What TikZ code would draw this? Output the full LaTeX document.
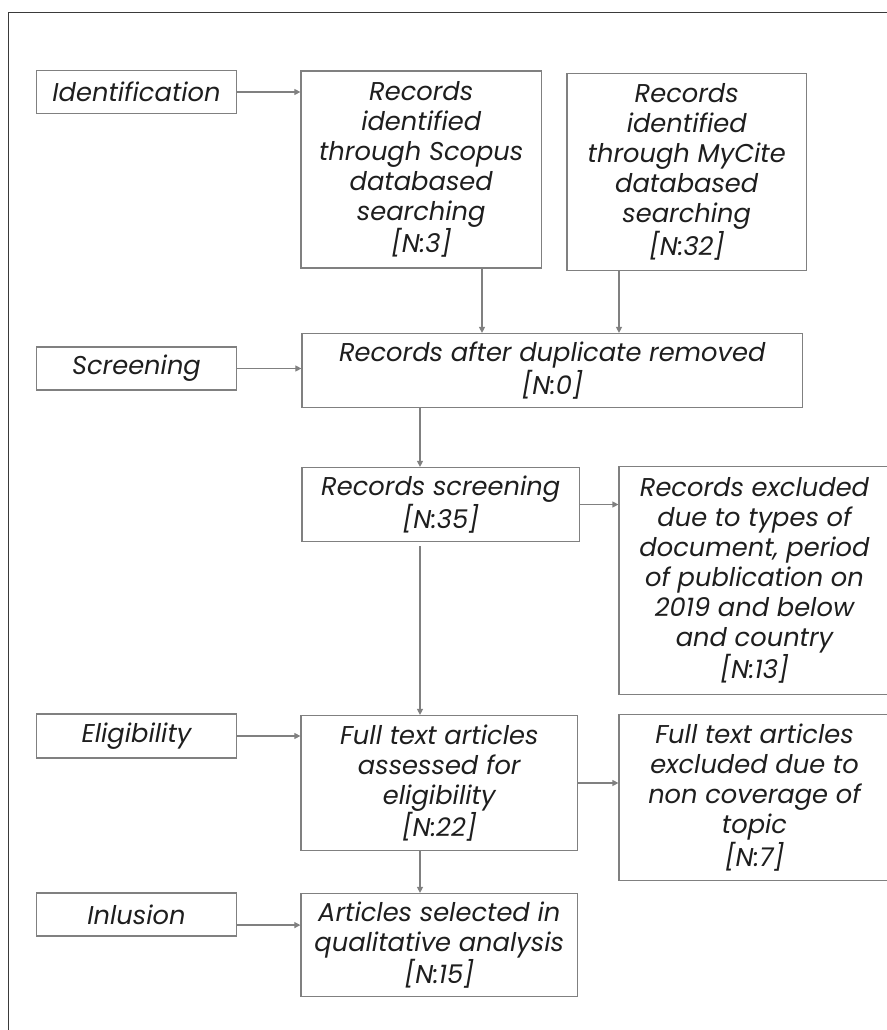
\documentclass[tikz,border=0pt]{standalone}
\usepackage{fontspec}
\setmainfont{Poppins}
\usepackage{xcolor}
\usepackage{tikz}
\usetikzlibrary{arrows.meta}

\definecolor{boxline}{HTML}{808080}
\definecolor{frameline}{HTML}{3A3A3A}
\definecolor{txt}{HTML}{1E1E1E}

\begin{document}
\begin{tikzpicture}[x=0.75pt, y=-0.75pt,
    every node/.style={rectangle, draw=boxline, line width=0.9pt, inner sep=0pt, align=center, text=txt,
        font=\fontsize{19.3}{22.5}\selectfont\itshape},
    stage/.style={minimum width=150pt, minimum height=32.25pt},
    arr/.style={draw=boxline, line width=0.9pt, -{Triangle[length=4.5pt, width=4.5pt]}}]
     \useasboundingbox (0,0) rectangle (887,1030);
     \clip (0,0) rectangle (887,1030);
     \draw[frameline, line width=1.1pt] (8.5,12.5) rectangle (900,1045);

     \node[stage] (Ident) at (136.5, 92) {Identification};
     \node[stage] (Screen) at (136.5, 368.5) {Screening};
     \node[stage, minimum height=33pt] (Elig) at (136.5, 736) {Eligibility};
     \node[stage] (Incl) at (136.5, 914.5) {Inlusion};

     \node[minimum width=180.4pt, minimum height=147.75pt] (Scopus) at (421.25, 169.5)
         {Records\\identified\\through Scopus\\databased\\searching\\{[N:3]}};
     \node[minimum width=179.6pt, minimum height=147.75pt] (MyCite) at (686.75, 172)
         {Records\\identified\\through MyCite\\databased\\searching\\{[N:32]}};
     \node[minimum width=375.4pt, minimum height=55.5pt] (Dup) at (552.25, 370.5)
         {Records after duplicate removed\\{[N:0]}};
     \node[minimum width=208.1pt, minimum height=55.5pt] (RecScr) at (440.75, 504.5)
         {Records screening\\{[N:35]}};
     \node[minimum width=203.25pt, minimum height=171pt] (ExclA) at (754.5, 580.5)
         {Records excluded\\due to types of\\document, period\\of publication on\\2019 and below\\and country\\{[N:13]}};
     \node[minimum width=207.4pt, minimum height=101.25pt] (Full) at (439.25, 783)
         {Full text articles\\assessed for\\eligibility\\{[N:22]}};
     \node[minimum width=203.25pt, minimum height=124.5pt] (ExclB) at (754.5, 797.5)
         {Full text articles\\excluded due to\\non coverage of\\topic\\{[N:7]}};
     \node[minimum width=207.4pt, minimum height=77.25pt] (Art) at (439.25, 945)
         {Articles selected in\\qualitative analysis\\{[N:15]}};

     \coordinate (Sc) at (482, 0);
     \coordinate (Mc) at (619, 0);
     \coordinate (Mid) at (420, 0);

     \draw[arr] (Ident.east) -- (Ident.east -| Scopus.west);
     \draw[arr] (Scopus.south -| Sc) -- (Dup.north -| Sc);
     \draw[arr] (MyCite.south -| Mc) -- (Dup.north -| Mc);
     \draw[arr] (Screen.east) -- (Screen.east -| Dup.west);
     \draw[arr] (Dup.south -| Mid) -- (RecScr.north -| Mid);
     \draw[arr] (RecScr.east) -- (RecScr.east -| ExclA.west);
     \draw[arr, shorten <=3pt] (RecScr.south -| Mid) -- (Full.north -| Mid);
     \draw[arr] (Elig.east) -- (Elig.east -| Full.west);
     \draw[arr] (Full.east) -- (Full.east -| ExclB.west);
     \draw[arr] (Full.south -| Mid) -- (Art.north -| Mid);
     \draw[arr] (Incl.-6) -- (Incl.-6 -| Art.west);
 \end{tikzpicture}
\end{document}
